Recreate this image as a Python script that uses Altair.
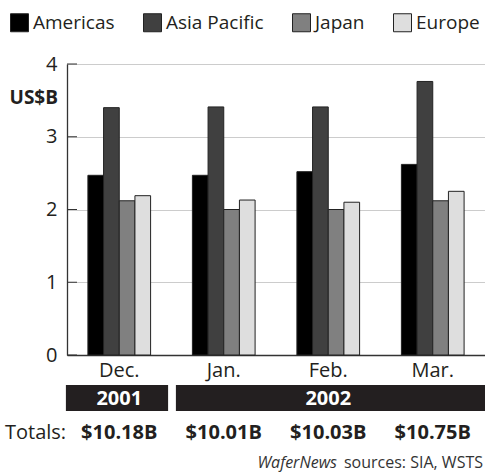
import altair as alt
import pandas as pd

# ---- data ----
months = ["Dec.", "Jan.", "Feb.", "Mar."]
regions = ["Americas", "Asia Pacific", "Japan", "Europe"]
region_colors = ["#000000", "#404040", "#808080", "#dedede"]
americas = [2.47, 2.47, 2.52, 2.62]
asia_pacific = [3.40, 3.41, 3.41, 3.76]
japan = [2.12, 2.00, 2.00, 2.12]
europe = [2.19, 2.13, 2.10, 2.25]
totals = ["$10.18B", "$10.01B", "$10.03B", "$10.75B"]
years = ["2001", "2002"]
year_start = ["Dec.", "Jan."]
year_end = ["Dec.", "Mar."]
year_label_at = ["Dec.", "Feb."]
y_ticks = [0, 1, 2, 3, 4]
unit_label = "US$B"
totals_label = "Totals:"
source_brand = "WaferNews"
source_text = "sources: SIA, WSTS"

FONT = "Open Sans"
INK = "#231f20"
W, H = 418, 291

series = {"Americas": americas, "Asia Pacific": asia_pacific, "Japan": japan, "Europe": europe}
rows = []
for r in regions:
    for m, v in zip(months, series[r]):
        rows.append({"month": m, "region": r, "value": v})
df = pd.DataFrame(rows)
df_tot = pd.DataFrame({"month": months, "total": totals})
df_years = pd.DataFrame({"year": years, "start": year_start, "end": year_end, "label_at": year_label_at})
df_ticks = pd.DataFrame({"tick": y_ticks})

x_scale = alt.Scale(domain=months, paddingInner=0.4, paddingOuter=0.2)
y_scale = alt.Scale(domain=[0, 4], nice=False)

x_axis = alt.Axis(title=None, labelAngle=0, labelFontSize=20, labelFont=FONT,
                  labelColor=INK, ticks=False, tickSize=0, labelPadding=5,
                  domainColor="#333333", domainWidth=1.3, grid=False)
y_axis = alt.Axis(values=y_ticks, title=None, ticks=False, tickSize=0, labelPadding=10,
                  labelFontSize=20, labelFont=FONT, labelColor=INK, grid=True,
                  gridColor="#cccccc", gridWidth=1, domainColor="#333333", domainWidth=1.3)

bars = alt.Chart(df).mark_bar(stroke="#222222", strokeWidth=1).encode(
    x=alt.X("month:N", sort=months, scale=x_scale, axis=x_axis),
    xOffset=alt.XOffset("region:N", sort=regions,
                        scale=alt.Scale(domain=regions, paddingInner=0, paddingOuter=0)),
    y=alt.Y("value:Q", scale=y_scale, axis=y_axis),
    color=alt.Color("region:N", sort=regions, scale=alt.Scale(domain=regions, range=region_colors),
                    legend=alt.Legend(title=None, orient="none", direction="horizontal",
                                      legendX=-57, legendY=-51, symbolType="square",
                                      symbolSize=324, symbolStrokeColor="#222222",
                                      symbolStrokeWidth=1, labelFontSize=19, labelFont=FONT,
                                      labelColor=INK, labelOffset=4, columnPadding=26,
                                      padding=0)),
)

inner_ticks = alt.Chart(df_ticks).mark_rule(color="#333333", strokeWidth=1).encode(
    y=alt.Y("tick:Q", scale=y_scale, axis=y_axis),
    x=alt.value(0), x2=alt.value(10),
)

unit = alt.Chart(pd.DataFrame({"t": [unit_label], "v": [3.53]})).mark_text(
    align="right", baseline="middle", fontSize=19, fontWeight="bold", font=FONT, color=INK
).encode(y=alt.Y("v:Q", scale=y_scale, axis=y_axis), x=alt.value(-9), text="t:N")

year_boxes = alt.Chart(df_years).mark_rect(
    color=INK,
    xOffset=alt.expr("datum.year === '2001' ? -22 : -16.5"),
    x2Offset=alt.expr("datum.year === '2001' ? 17.5 : 21"),
).encode(
    x=alt.X("start:N", sort=months, scale=x_scale, bandPosition=0, axis=x_axis),
    x2=alt.X2("end:N", bandPosition=1),
    y=alt.value(321), y2=alt.value(347),
)

year_text = alt.Chart(df_years).mark_text(
    color="white", fontWeight="bold", fontSize=20, font=FONT, baseline="alphabetic"
).encode(x=alt.X("label_at:N", sort=months, scale=x_scale, axis=x_axis),
         y=alt.value(341), text="year:N")

total_text = alt.Chart(df_tot).mark_text(
    color=INK, fontWeight="bold", fontSize=20, font=FONT, baseline="alphabetic"
).encode(x=alt.X("month:N", sort=months, scale=x_scale, axis=x_axis),
         y=alt.value(375), text="total:N")

totals_lbl = alt.Chart(pd.DataFrame({"t": [totals_label]})).mark_text(
    color=INK, fontSize=20, font=FONT, align="left", baseline="alphabetic"
).encode(x=alt.value(-62), y=alt.value(375), text="t:N")

src_brand = alt.Chart(pd.DataFrame({"t": [source_brand]})).mark_text(
    color="#333333", fontSize=16, font=FONT, fontStyle="italic", align="right", baseline="alphabetic"
).encode(x=alt.value(270), y=alt.value(404), text="t:N")

src = alt.Chart(pd.DataFrame({"t": [source_text]})).mark_text(
    color="#333333", fontSize=16, font=FONT, align="right", baseline="alphabetic"
).encode(x=alt.value(416), y=alt.value(404), text="t:N")

chart = alt.layer(bars, inner_ticks, unit, year_boxes, year_text, total_text, totals_lbl,
                  src_brand, src).properties(
    width=W, height=H,
    autosize=alt.AutoSizeParams(type="none"),
    padding={"left": 67, "top": 64, "right": 0, "bottom": 120},
).configure_view(stroke=None).configure(background="white")

chart.save("out.html", embed_options={"renderer": "svg", "actions": False})
